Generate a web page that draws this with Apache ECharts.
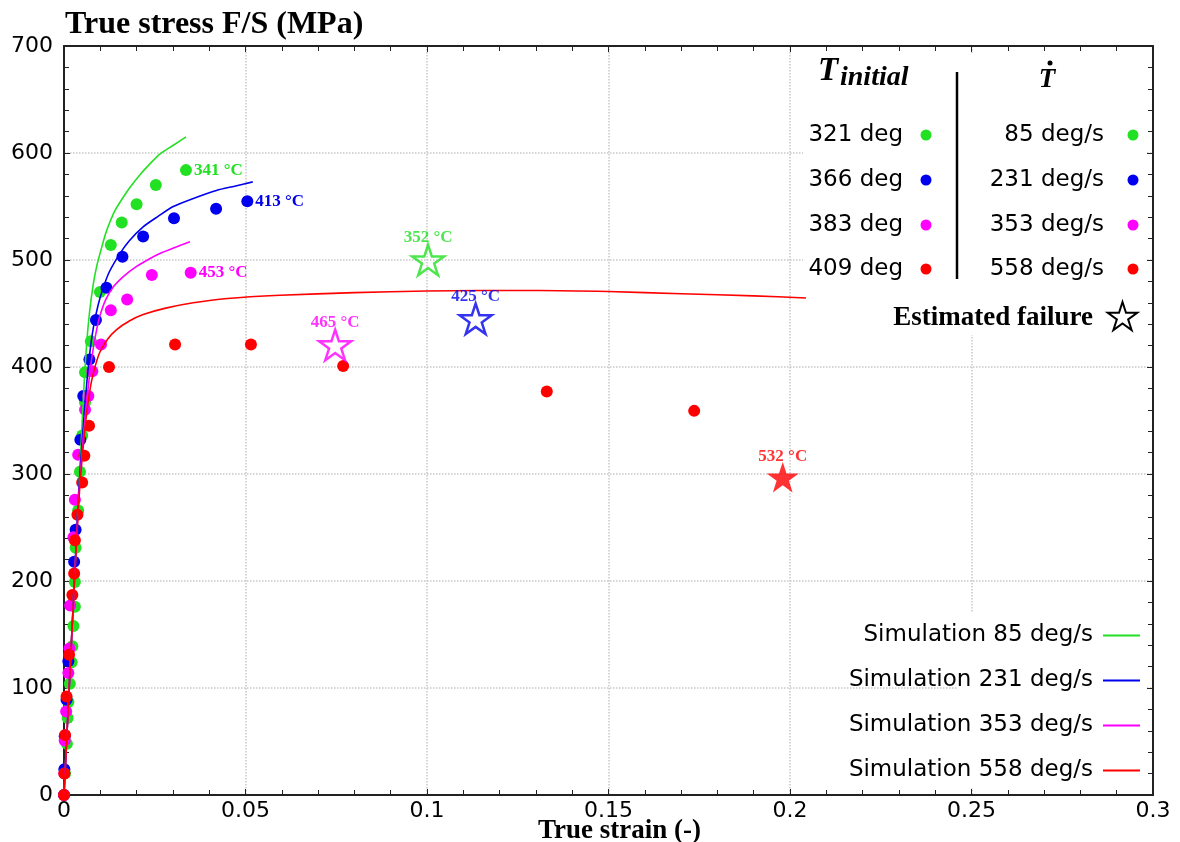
<!DOCTYPE html>
<html>
<head>
<meta charset="utf-8">
<script src="https://cdn.jsdelivr.net/npm/echarts@6/dist/echarts.min.js"></script>
<style>
html,body{margin:0;padding:0;background:#fff;}
#chart{width:1180px;height:842px;}
</style>
</head>
<body>
<div id="chart"></div>
<script>
// ---- Data ----
const colors = ['#22e022', '#0000ee', '#ff00ff', '#ff0000'];
const tempLabels = ['321 deg', '366 deg', '383 deg', '409 deg'];
const rateLabels = ['85 deg/s', '231 deg/s', '353 deg/s', '558 deg/s'];
const simNames = ['Simulation 85 deg/s', 'Simulation 231 deg/s', 'Simulation 353 deg/s', 'Simulation 558 deg/s'];

const exp85 = [[0.0003,20],[0.0008,48],[0.0010,72],[0.0012,87],[0.0016,104],[0.0021,124],[0.0023,139],[0.0026,158],[0.0030,176],[0.0030,199],[0.0032,231],[0.0039,266],[0.0044,302],[0.0050,336],[0.0058,367],[0.0058,395],[0.0074,424],[0.0099,470],[0.0129,514],[0.0159,535],[0.0200,552],[0.0253,570],[0.0336,584]];
const exp231 = [[0,0],[0.0001,24],[0.0002,55],[0.0007,89],[0.0012,125],[0.0028,218],[0.0032,248],[0.0045,332],[0.0053,373],[0.0070,407],[0.0088,444],[0.0117,474],[0.0161,503],[0.0218,522],[0.0303,539],[0.0419,548],[0.0505,555]];
const exp353 = [[0,0],[0.0001,20],[0.0002,51],[0.0006,78],[0.0012,114],[0.0015,137],[0.0017,177],[0.0026,241],[0.0030,276],[0.0039,318],[0.0058,360],[0.0067,373],[0.0078,396],[0.0102,421],[0.0129,453],[0.0174,463],[0.0242,486],[0.0349,488]];
const exp558 = [[0,0],[0.0001,20],[0.0003,56],[0.0007,92],[0.0014,131],[0.0023,187],[0.0028,207],[0.0030,238],[0.0037,262],[0.0050,292],[0.0056,317],[0.0069,345],[0.0124,400],[0.0306,421],[0.0515,421],[0.0769,401],[0.1330,377],[0.1736,359]];
const endLabels = ['341 °C', '413 °C', '453 °C', null];

const sim85 = [[0,0],[0.002,140],[0.004,280],[0.0049,341],[0.0055,382],[0.0062,420],[0.0070,450],[0.0080,476],[0.0090,494],[0.0104,512],[0.0115,525],[0.0127,536],[0.0140,546],[0.0160,557],[0.0182,568],[0.0210,580],[0.0240,591],[0.0264,599],[0.0300,607],[0.0336,615]];
const sim231 = [[0,0],[0.002,140],[0.004,280],[0.0052,340],[0.0062,382],[0.0070,410],[0.0081,437],[0.0094,458],[0.0108,474],[0.0125,489],[0.0154,506],[0.0180,518],[0.0218,531],[0.0260,541],[0.0301,550],[0.0360,558],[0.0420,565],[0.0470,569],[0.0520,573]];
const sim353 = [[0,0],[0.002,140],[0.004,275],[0.0052,330],[0.0060,360],[0.0067,382],[0.0074,402],[0.0081,418],[0.0090,435],[0.0099,448],[0.0115,463],[0.0136,475],[0.0165,485],[0.0200,494],[0.0235,501],[0.0264,506],[0.0300,511],[0.0347,517]];
const sim558 = [[0,0],[0.002,140],[0.004,270],[0.0050,315],[0.0062,356],[0.0069,373],[0.0076,387],[0.0087,402],[0.0099,414],[0.0120,426],[0.0145,435],[0.0180,443],[0.0218,449],[0.0280,455],[0.0356,460],[0.0450,464],[0.0595,467],[0.0800,469.5],[0.0999,471],[0.1150,471.5],[0.1310,471.5],[0.1500,470.5],[0.1700,468.5],[0.1900,466.5],[0.2044,464.5]];

const failPoints = [[0.1003,500],[0.1134,445],[0.0747,420.6],[0.198,297]];
const failLabels = ['352 °C', '425 °C', '465 °C', '532 °C'];
const failFilled = [false, false, false, true];

const xTicks = {min: 0, max: 0.3, interval: 0.05};
const yTicks = {min: 0, max: 700, interval: 100};

// ---- Chart ----
const STAR_PTS = [[50,0],[61.23,34.55],[97.55,34.55],[68.17,55.9],[79.39,90.45],[50,69.1],[20.61,90.45],[31.83,55.9],[2.45,34.55],[38.77,34.55]];
const STAR = 'path://M' + STAR_PTS.map(p => p.join(',')).join(' L') + ' Z';
const expSets = [exp85, exp231, exp353, exp558];
const simSets = [sim85, sim231, sim353, sim558];
const labelFont = {fontFamily: 'Liberation Serif', fontWeight: 'bold', fontSize: 17};

const series = [];
expSets.forEach((pts, k) => {
  series.push({
    type: 'scatter', name: 'exp' + k, z: 2,
    symbol: 'circle', symbolSize: 12,
    itemStyle: {color: colors[k], opacity: 1},
    data: pts.map((p, i) => (i === pts.length - 1 && endLabels[k]) ? {
      value: p,
      label: Object.assign({show: true, position: 'right', distance: 2, formatter: endLabels[k], color: colors[k]}, labelFont)
    } : p)
  });
});
simSets.forEach((pts, k) => {
  series.push({
    type: 'line', name: simNames[k], z: 3,
    data: pts, showSymbol: false, symbol: 'none',
    smooth: 0.25,
    lineStyle: {color: colors[k], width: 1.6},
    itemStyle: {color: colors[k]}
  });
});
failPoints.forEach((p, k) => {
  series.push({
    type: 'scatter', name: 'fail' + k, z: 4,
    symbol: STAR, symbolSize: 32, symbolKeepAspect: true,
    itemStyle: failFilled[k] ? {color: colors[k]} : {color: 'rgba(255,255,255,0)', borderColor: colors[k], borderWidth: 2.5},
    label: Object.assign({show: true, position: 'top', distance: -3, formatter: failLabels[k], color: colors[k]}, labelFont),
    data: [p]
  });
});

// custom legend (top right)
const legendFont = 'DejaVu Sans';
const graphics = [
  {type: 'rect', z: 1, shape: {x: 803, y: 53, width: 343, height: 282}, style: {fill: '#fff'}},
  {type: 'rect', z: 1, shape: {x: 958, y: 612, width: 188, height: 176}, style: {fill: '#fff'}},
  {type: 'text', z: 10, x: 818, y: 71, style: {text: 'T', font: 'italic bold 33px "Liberation Serif"', fill: '#000', verticalAlign: 'middle', align: 'left'}},
  {type: 'text', z: 10, x: 840, y: 78, style: {text: 'initial', font: 'italic bold 28px "Liberation Serif"', fill: '#000', verticalAlign: 'middle', align: 'left'}},
  {type: 'text', z: 10, x: 1047, y: 80, style: {text: 'T', font: 'italic bold 27px "Liberation Serif"', fill: '#000', verticalAlign: 'middle', align: 'center'}},
  {type: 'circle', z: 10, shape: {cx: 1050, cy: 63, r: 2.5}, style: {fill: '#000'}},
  {type: 'line', z: 10, shape: {x1: 957, y1: 72, x2: 957, y2: 279}, style: {stroke: '#000', lineWidth: 2.5}},
  {type: 'text', z: 10, x: 1093, y: 318, style: {text: 'Estimated failure', font: 'bold 27px "Liberation Serif"', fill: '#000', verticalAlign: 'middle', align: 'right'}},
  {type: 'polygon', z: 10, shape: {points: STAR_PTS.map(p => [1107 + p[0] * 0.31, 302 + p[1] * 0.31])}, style: {fill: 'none', stroke: '#000', lineWidth: 2}}
];
const rowY = [135, 180, 225, 269];
rowY.forEach((y, k) => {
  graphics.push({type: 'text', z: 10, x: 903, y: y, style: {text: tempLabels[k], font: '23px "DejaVu Sans"', fill: '#000', verticalAlign: 'middle', align: 'right'}});
  graphics.push({type: 'circle', z: 10, shape: {cx: 926, cy: y, r: 5.5}, style: {fill: colors[k]}});
  graphics.push({type: 'text', z: 10, x: 1104, y: y, style: {text: rateLabels[k], font: '23px "DejaVu Sans"', fill: '#000', verticalAlign: 'middle', align: 'right'}});
  graphics.push({type: 'circle', z: 10, shape: {cx: 1133, cy: y, r: 5.5}, style: {fill: colors[k]}});
});

const axisLineStyle = {color: '#222', width: 2};
const tickFont = {fontFamily: legendFont, fontSize: 22, color: '#000'};
const tickStyle = {show: true, inside: true, length: 6, lineStyle: {color: '#222', width: 1}};
const minorStyle = {show: true, splitNumber: 5, length: 5, lineStyle: {color: '#222', width: 1}};

const option = {
  animation: false,
  backgroundColor: '#fff',
  title: {
    text: 'True stress F/S (MPa)', left: 60, top: 4,
    textStyle: {fontFamily: 'Liberation Serif', fontWeight: 'bold', fontSize: 32, color: '#000'}
  },
  grid: {left: 64, right: 27, top: 46, bottom: 47, containLabel: false, outerBoundsMode: 'none'},
  legend: {
    data: simNames, orient: 'vertical', right: 35, top: 619, align: 'right',
    icon: 'rect', itemWidth: 37, itemHeight: 2, itemGap: 22,
    textStyle: {fontFamily: legendFont, fontSize: 23, color: '#000', padding: [0, 5, 0, 0]},
    selectedMode: false, z: 10
  },
  xAxis: [{
    type: 'value', min: xTicks.min, max: xTicks.max, interval: xTicks.interval,
    position: 'bottom',
    axisLine: {show: true, onZero: false, lineStyle: axisLineStyle},
    axisTick: tickStyle, minorTick: minorStyle,
    axisLabel: Object.assign({margin: 5}, tickFont),
    splitLine: {show: true, lineStyle: {color: '#c8c8c8', type: 'dotted', width: 1.5}},
    name: 'True strain (-)', nameLocation: 'middle', nameGap: 23, nameMoveOverlap: false,
    nameTextStyle: {fontFamily: 'Liberation Serif', fontWeight: 'bold', fontSize: 27, color: '#000', padding: [0, 0, 0, 22]}
  }, {
    type: 'value', min: xTicks.min, max: xTicks.max, interval: xTicks.interval,
    position: 'top',
    axisLine: {show: true, onZero: false, lineStyle: axisLineStyle},
    axisTick: tickStyle, minorTick: minorStyle,
    axisLabel: {show: false}, splitLine: {show: false}
  }],
  yAxis: [{
    type: 'value', min: yTicks.min, max: yTicks.max, interval: yTicks.interval,
    position: 'left',
    axisLine: {show: true, onZero: false, lineStyle: axisLineStyle},
    axisTick: tickStyle, minorTick: minorStyle,
    axisLabel: Object.assign({margin: 11}, tickFont),
    splitLine: {show: true, lineStyle: {color: '#c8c8c8', type: 'dotted', width: 1.5}}
  }, {
    type: 'value', min: yTicks.min, max: yTicks.max, interval: yTicks.interval,
    position: 'right',
    axisLine: {show: true, onZero: false, lineStyle: axisLineStyle},
    axisTick: tickStyle, minorTick: minorStyle,
    axisLabel: {show: false}, splitLine: {show: false}
  }],
  graphic: graphics,
  series: series
};

const chart = echarts.init(document.getElementById('chart'), null, {renderer: 'canvas'});
chart.setOption(option);
</script>
</body>
</html>
